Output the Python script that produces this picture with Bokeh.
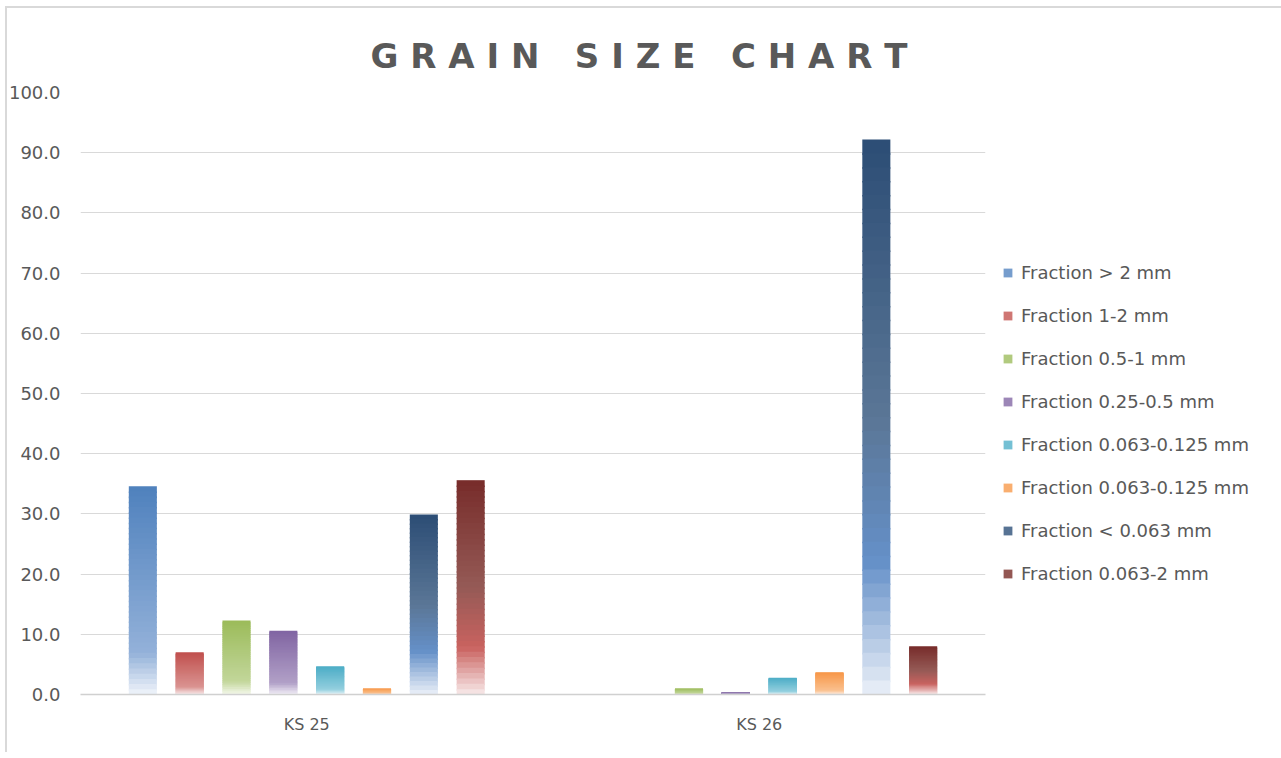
from bokeh.plotting import figure
from bokeh.models import ColumnDataSource, Legend, LegendItem, NumeralTickFormatter, Range1d
from bokeh.transform import dodge
from bokeh.embed import file_html
from bokeh.resources import INLINE

# ---------------- data ----------------
categories = ["KS 25", "KS 26"]
series_names = [
    "Fraction > 2 mm",
    "Fraction 1-2 mm",
    "Fraction 0.5-1 mm",
    "Fraction 0.25-0.5 mm",
    "Fraction 0.063-0.125 mm",
    "Fraction 0.063-0.125 mm",
    "Fraction < 0.063 mm",
    "Fraction 0.063-2 mm",
]
frac_gt_2 = [34.6, 0.0]
frac_1_2 = [7.0, 0.0]
frac_05_1 = [12.3, 1.0]
frac_025_05 = [10.6, 0.4]
frac_0063_0125_a = [4.7, 2.8]
frac_0063_0125_b = [1.0, 3.7]
frac_lt_0063 = [29.9, 92.2]
frac_0063_2 = [35.6, 8.0]
series_values = [frac_gt_2, frac_1_2, frac_05_1, frac_025_05,
                 frac_0063_0125_a, frac_0063_0125_b, frac_lt_0063, frac_0063_2]
y_ticks = [0, 10, 20, 30, 40, 50, 60, 70, 80, 90, 100]

# ---------------- styles (gradient stops: position from top, colour) ----------------
gradients = [
    [(0.0, "#4F81BD"), (0.80, "#93B1D9"), (1.0, "#F0F4FA")],
    [(0.0, "#C0504D"), (0.82, "#DA9391"), (1.0, "#F8ECEC")],
    [(0.0, "#9BBB59"), (0.82, "#C2D69A"), (1.0, "#F4F8EC")],
    [(0.0, "#8064A2"), (0.82, "#B1A0C7"), (1.0, "#F3F0F7")],
    [(0.0, "#4BACC6"), (0.82, "#93CFDE"), (1.0, "#EAF6F9")],
    [(0.0, "#F79646"), (0.82, "#FAC08F"), (1.0, "#FEF0E4")],
    [(0.0, "#2C4D75"), (0.50, "#5A7696"), (0.76, "#6590C8"), (1.0, "#EBF0F8")],
    [(0.0, "#772C2A"), (0.50, "#955A56"), (0.78, "#C9625F"), (1.0, "#F8EAEA")],
]
TEXT = "#595959"
FONT = "DejaVu Sans"
N_SLICES = 40
OVERLAP = 0.25
BAR_STEP = 0.1035
BAR_WIDTH = 0.062


def hex2rgb(h):
    h = h.lstrip("#")
    return tuple(int(h[i:i + 2], 16) for i in (0, 2, 4))


def color_at(stops, f):
    for (p0, c0), (p1, c1) in zip(stops[:-1], stops[1:]):
        if p0 <= f <= p1:
            t = (f - p0) / (p1 - p0) if p1 > p0 else 0
            a, b = hex2rgb(c0), hex2rgb(c1)
            r = [round(a[k] + (b[k] - a[k]) * t) for k in range(3)]
            return "#%02x%02x%02x" % tuple(r)
    return stops[-1][1]


p = figure(
    x_range=categories, y_range=Range1d(0, 100),
    frame_width=905, frame_height=602,
    min_border_left=80, min_border_right=294, min_border_top=92, min_border_bottom=58,
    output_backend="svg", toolbar_location=None,
)
p.x_range.range_padding = 0
p.outline_line_color = None
p.border_fill_color = None
p.background_fill_color = "white"
p.styles = {
    "background-color": "white",
    "box-shadow": ("inset 5px 6px 0 0 white, inset 7px 8px 0 0 #d9d9d9, "
                   "inset -2px 0 0 0 #d9d9d9"),
}

legend_items = []
for s, (name, vals) in enumerate(zip(series_names, series_values)):
    xs, tops, bots, cols = [], [], [], []
    for cat, v in zip(categories, vals):
        if v <= 0:
            continue
        for i in range(N_SLICES):
            xs.append(cat)
            tops.append(v * (1 - i / N_SLICES))
            bots.append(max(0.0, v * (1 - (i + 1) / N_SLICES) - OVERLAP))
            cols.append(color_at(gradients[s], (i + 0.5) / N_SLICES))
    src = ColumnDataSource(dict(x=xs, top=tops, bottom=bots, color=cols))
    r = p.vbar(x=dodge("x", (s - 3.5) * BAR_STEP, range=p.x_range), top="top", bottom="bottom",
               width=BAR_WIDTH, fill_color="color", line_color=None, source=src)
    legend_items.append(LegendItem(label=name, renderers=[r], index=int(N_SLICES * 0.45)))

legend = Legend(items=legend_items, location=(17, 110), padding=0, margin=0,
                glyph_width=11, glyph_height=11, label_height=21, spacing=22,
                label_standoff=8, label_text_font=FONT, label_text_font_size="18px",
                label_text_color=TEXT, border_line_color=None, background_fill_alpha=0)
p.add_layout(legend, "right")

# axes
p.yaxis.ticker = y_ticks
p.yaxis.formatter = NumeralTickFormatter(format="0.0")
p.yaxis.axis_line_color = None
p.yaxis.major_tick_line_color = None
p.yaxis.minor_tick_line_color = None
p.yaxis.major_label_standoff = 14
p.yaxis.major_label_text_font = FONT
p.yaxis.major_label_text_font_size = "18px"
p.yaxis.major_label_text_color = TEXT

p.xaxis.axis_line_color = "#d0d0d0"
p.xaxis.axis_line_width = 1.5
p.xaxis.major_tick_line_color = None
p.xaxis.minor_tick_line_color = None
p.xaxis.major_label_standoff = 14
p.xaxis.major_label_text_font = FONT
p.xaxis.major_label_text_font_size = "16px"
p.xaxis.major_label_text_color = TEXT

p.xgrid.visible = False
p.ygrid.grid_line_color = "#d9d9d9"
p.ygrid.grid_line_width = 1

# title
p.title.text = "G R A I N \u00a0 S I Z E \u00a0 C H A R T"
p.title.align = "left"
p.title.offset = 290
p.title.standoff = 33
p.title.text_font = FONT
p.title.text_font_size = "34px"
p.title.text_font_style = "bold"
p.title.text_color = TEXT

open("out.html", "w").write(file_html(p, INLINE))
